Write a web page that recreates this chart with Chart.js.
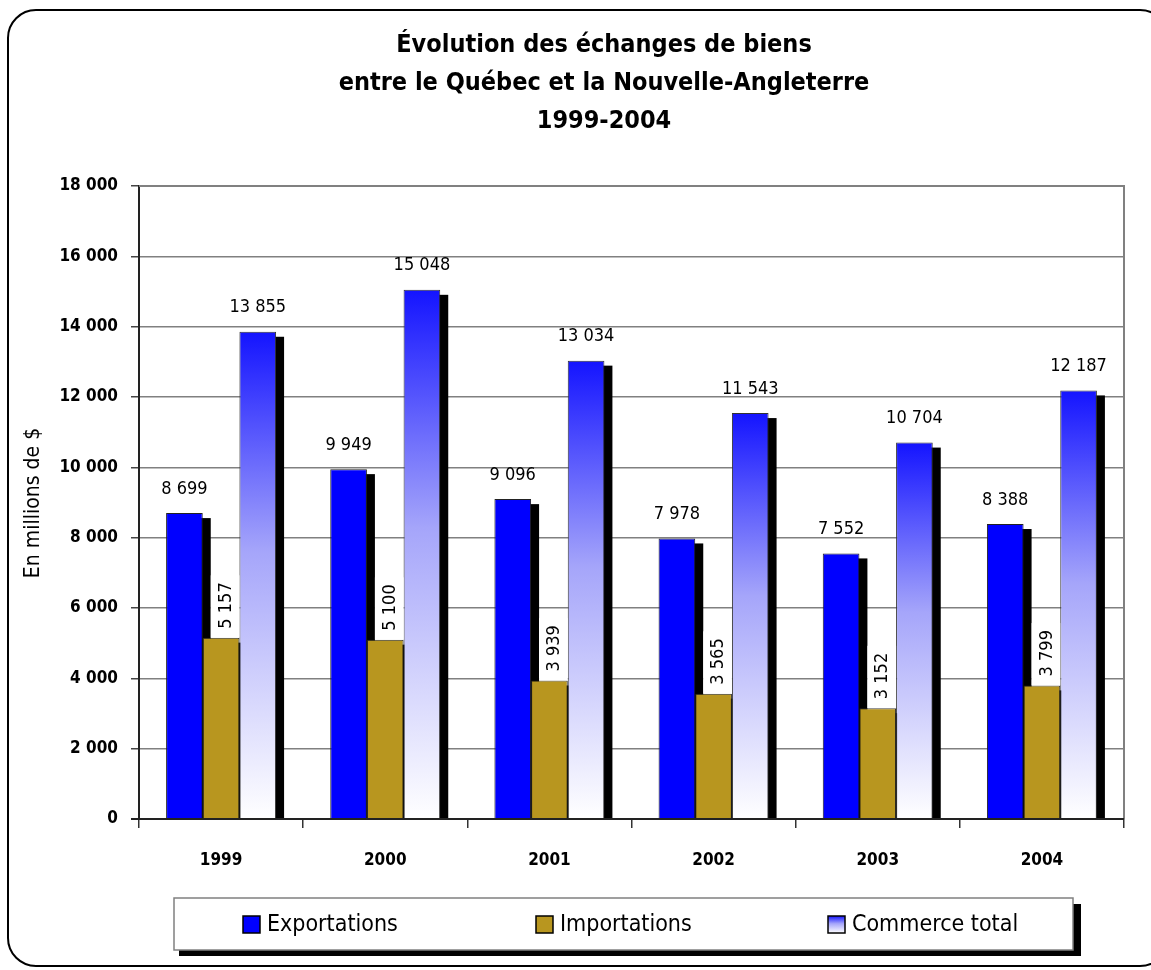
<!DOCTYPE html>
<html>
<head>
<meta charset="utf-8">
<script src="https://cdn.jsdelivr.net/npm/chart.js@4.4.1/dist/chart.umd.min.js"></script>
<style>
  html, body { margin: 0; padding: 0; background: #fff; }
  canvas { display: block; }
</style>
</head>
<body>
<canvas id="chart" width="1151" height="970"></canvas>
<script>
// data (millions de $)
const years = ['1999', '2000', '2001', '2002', '2003', '2004'];
const exportations = [8699, 9949, 9096, 7978, 7552, 8388];
const importations = [5157, 5100, 3939, 3565, 3152, 3799];
const commerceTotal = [13855, 15048, 13034, 11543, 10704, 12187];
const yMax = 18000;
const yStep = 2000;

const titleLines = ['Évolution des échanges de biens', 'entre le Québec et la Nouvelle-Angleterre', '1999-2004'];
const yTitle = 'En millions de $';

const FONT = "'Liberation Sans Narrow', 'Arial Narrow', 'DejaVu Sans Condensed', sans-serif";
Chart.defaults.font.family = FONT;
Chart.defaults.color = '#000';

let fmt = function(n) {
	return String(n).replace(/\B(?=(\d{3})+(?!\d))/g, ' ');
}

let totalGradient = function(context) {
	let chart = context.chart;
	if (!chart.chartArea) return '#1414ff';
	let v = context.raw;
	if (v === undefined) return '#1414ff';
	let y = chart.scales.y;
	let g = chart.ctx.createLinearGradient(0, y.getPixelForValue(v), 0, y.getPixelForValue(0));
	g.addColorStop(0, 'rgb(20,20,255)');
	g.addColorStop(0.45, 'rgb(165,165,250)');
	g.addColorStop(1, 'rgb(255,255,255)');
	return g;
}

// black drop shadow behind every bar
const barShadows = {
	id: 'barShadows',
	beforeDatasetsDraw(chart) {
		let ctx = chart.ctx;
		ctx.save();
		ctx.fillStyle = '#000';
		chart.data.datasets.forEach(function(ds, i) {
			chart.getDatasetMeta(i).data.forEach(function(el) {
				let w = el.width;
				ctx.fillRect(el.x - w / 2 + 8, el.y + 5, w, el.base - el.y - 5);
			});
		});
		ctx.restore();
	}
};

// value labels
const valueLabels = {
	id: 'valueLabels',
	afterDatasetsDraw(chart) {
		let ctx = chart.ctx;
		ctx.save();
		ctx.font = '18px ' + FONT;
		ctx.fillStyle = '#000';
		chart.data.datasets.forEach(function(ds, i) {
			chart.getDatasetMeta(i).data.forEach(function(el, j) {
				let txt = fmt(ds.data[j]);
				if (i === 1) {
					// rotated label in a white box sitting on the bar
					let tw = ctx.measureText(txt).width;
					let left = el.x - el.width / 2 + 8;
					let right = el.x + el.width / 2;
					let h = tw + 16;
					ctx.fillStyle = '#fff';
					ctx.fillRect(left, el.y - h, right - left, h);
					ctx.fillStyle = '#000';
					ctx.save();
					ctx.translate((left + right) / 2 + 1, el.y - 9);
					ctx.rotate(-Math.PI / 2);
					ctx.textAlign = 'left';
					ctx.textBaseline = 'middle';
					ctx.fillText(txt, 0, 0);
					ctx.restore();
				} else {
					ctx.textAlign = 'center';
					ctx.textBaseline = 'middle';
					ctx.fillText(txt, el.x, el.y - 24);
				}
			});
		});
		ctx.restore();
	}
};

// frame, title, axis title, legend box
const decor = {
	id: 'decor',
	beforeDraw(chart) {
		let ctx = chart.ctx;
		ctx.save();
		ctx.fillStyle = '#fff';
		ctx.fillRect(0, 0, chart.width, chart.height);
		ctx.strokeStyle = '#000';
		ctx.lineWidth = 2;
		ctx.beginPath();
		ctx.roundRect(8, 10, 1160, 956, 28);
		ctx.stroke();
		ctx.restore();
	},
	afterDraw(chart) {
		let ctx = chart.ctx;
		let a = chart.chartArea;
		ctx.save();

		// plot frame top/right
		ctx.strokeStyle = '#808080';
		ctx.lineWidth = 2;
		ctx.beginPath();
		ctx.moveTo(a.left, a.top);
		ctx.lineTo(a.right, a.top);
		ctx.lineTo(a.right, a.bottom);
		ctx.stroke();
		// x axis line on top of bars
		ctx.strokeStyle = '#222';
		ctx.beginPath();
		ctx.moveTo(a.left - 8, a.bottom);
		ctx.lineTo(a.right, a.bottom);
		ctx.stroke();

		// title
		ctx.fillStyle = '#000';
		ctx.font = 'bold 25px ' + FONT;
		ctx.textAlign = 'center';
		ctx.textBaseline = 'middle';
		titleLines.forEach(function(line, k) {
			ctx.fillText(line, 604, 45 + k * 38);
		});

		// y axis title
		ctx.save();
		ctx.font = '21px ' + FONT;
		ctx.translate(34, 503);
		ctx.rotate(-Math.PI / 2);
		ctx.fillText(yTitle, 0, 0);
		ctx.restore();

		// legend
		let lx = 174, ly = 898, lw = 899, lh = 52;
		ctx.fillStyle = '#000';
		ctx.fillRect(lx + 5, ly + lh, lw + 3, 6);
		ctx.fillRect(lx + lw, ly + 6, 8, lh);
		ctx.fillStyle = '#fff';
		ctx.fillRect(lx, ly, lw, lh);
		ctx.strokeStyle = '#808080';
		ctx.lineWidth = 1.5;
		ctx.strokeRect(lx, ly, lw, lh);

		let itemX = [243, 536, 828];
		ctx.font = '23px ' + FONT;
		ctx.textAlign = 'left';
		chart.data.datasets.forEach(function(ds, i) {
			let x = itemX[i], y = 916, s = 17;
			if (i === 2) {
				let g = ctx.createLinearGradient(0, y, 0, y + s);
				g.addColorStop(0, 'rgb(20,20,255)');
				g.addColorStop(0.45, 'rgb(165,165,250)');
				g.addColorStop(1, '#fff');
				ctx.fillStyle = g;
			} else {
				ctx.fillStyle = ds.backgroundColor;
			}
			ctx.fillRect(x, y, s, s);
			ctx.strokeStyle = '#000';
			ctx.lineWidth = 1.5;
			ctx.strokeRect(x, y, s, s);
			ctx.fillStyle = '#000';
			ctx.fillText(ds.label, x + 24, y + s / 2 + 1);
		});
		ctx.restore();
	}
};

new Chart(document.getElementById('chart'), {
	type: 'bar',
	data: {
		labels: years,
		datasets: [
			{
				label: 'Exportations',
				data: exportations,
				backgroundColor: '#0000ff',
				borderColor: '#222',
				borderWidth: 1
			},
			{
				label: 'Importations',
				data: importations,
				backgroundColor: '#b8961f',
				borderColor: '#222',
				borderWidth: 1
			},
			{
				label: 'Commerce total',
				data: commerceTotal,
				backgroundColor: totalGradient,
				borderColor: '#333',
				borderWidth: 1
			}
		]
	},
	options: {
		responsive: false,
		animation: false,
		devicePixelRatio: 1,
		layout: { padding: { left: 0, right: 27, top: 186, bottom: 0 } },
		categoryPercentage: 0.67,
		barPercentage: 1,
		plugins: {
			legend: { display: false },
			title: { display: false },
			tooltip: { enabled: false }
		},
		scales: {
			x: {
				afterFit: function(scale) { scale.height = 151; },
				grid: {
					offset: true,
					drawOnChartArea: false,
					drawTicks: true,
					tickLength: 9,
					tickColor: '#333',
					lineWidth: 1.5
				},
				border: { display: true, color: '#222', width: 2 },
				ticks: {
					font: { size: 17, weight: 'bold' },
					color: '#000',
					padding: 22
				}
			},
			y: {
				min: 0,
				max: yMax,
				afterFit: function(scale) { scale.width = 139; },
				grid: {
					color: '#808080',
					lineWidth: 1.5,
					tickLength: 8,
					tickColor: '#444'
				},
				border: { display: true, color: '#222', width: 2 },
				ticks: {
					stepSize: yStep,
					font: { size: 17, weight: 'bold' },
					color: '#000',
					padding: 13,
					callback: function(v) { return fmt(v); }
				}
			}
		}
	},
	plugins: [decor, barShadows, valueLabels]
});
</script>
</body>
</html>
